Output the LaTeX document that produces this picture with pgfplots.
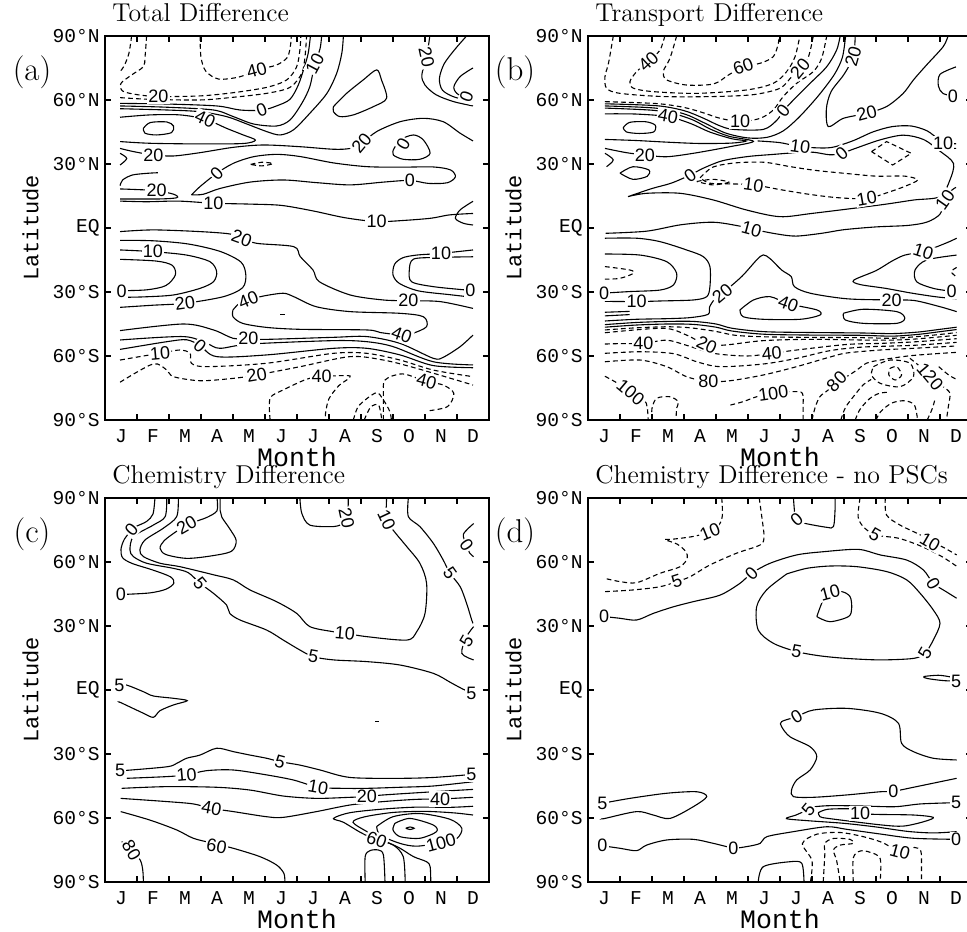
\documentclass[border=0pt]{standalone}
\usepackage{fontspec}
\usepackage{pgfplots}
\pgfplotsset{compat=1.18}
\newfontfamily\monofont{Liberation Mono}
\newfontfamily\labsans{Liberation Sans}
\newcommand{\lblfont}{\labsans\fontsize{9}{9}\selectfont}
\newcommand{\tickfont}{\monofont\fontsize{9.8}{10}\selectfont}

\pgfplotsset{
  panel/.style={
    scale only axis, width=192pt, height=192pt, anchor=south west,
    xmin=0, xmax=12, ymin=-90, ymax=90,
    axis line style={line width=0.9pt},
    tick style={black, line width=0.6pt},
    tick align=inside, major tick length=2.8pt,
    xtick={1,...,11}, xticklabels={},
    extra x ticks={0.5,1.5,...,11.5},
    extra x tick labels={J,F,M,A,M,J,J,A,S,O,N,D},
    extra x tick style={major tick length=0pt},
    xticklabel style={font=\tickfont, anchor=base, yshift=-11.35pt},
    ytick={-90,-60,...,90},
    yticklabels={90°S,60°S,30°S,EQ,30°N,60°N,90°N},
    yticklabel style={font=\tickfont, anchor=east, inner sep=0pt, xshift=-2.5pt},
    xlabel={Month}, ylabel={Latitude},
    xlabel style={font=\monofont\fontsize{13.3}{14}\selectfont,
      at={(axis description cs:0.5,-0.1214)}, anchor=base},
    ylabel style={font=\monofont\fontsize{11}{12}\selectfont,
      at={(axis description cs:-0.1737,0.5)}, anchor=base},
    title style={font=\fontsize{12.9}{13}\selectfont, inner sep=0pt,
      at={(axis description cs:0.0182,1)}, anchor=base west, yshift=1.4pt},
  },
  letter/.style={extra description/.code={
    \node[font=\fontsize{16.5}{17}\selectfont] at (-0.19,0.906) {#1};}},
  cl/.style={black, line width=0.55pt, smooth, tension=0.5, mark=none},
  ng/.style={cl, dash pattern=on 2.4pt off 1.6pt},
  lb/.style={only marks, mark=none, nodes near coords, point meta=explicit symbolic,
    visualization depends on={value \thisrow{a}\as\ang},
    every node near coord/.append style={font=\lblfont, rotate=\ang, anchor=center,
      fill=white, inner sep=0.6pt}},
}

\begin{document}
\begin{tikzpicture}
\useasboundingbox (0pt,0pt) rectangle (483.5pt,465.5pt);

%% ---------------- (a) Total Difference ----------------
\begin{axis}[panel, at={(52.5pt,255.5pt)}, title={Total Difference}, letter={(a)}]
% negative contours
\addplot[ng] coordinates {(2.97,90) (3.0,80) (3.15,73.5) (3.55,69.8) (4.2,70.8) (4.74,74) (5.36,76.4) (5.7,80) (5.8,86) (5.82,90)};
\addplot[ng] coordinates {(1.3,90) (1.25,80) (1.2,75.6) (0.83,71.7) (0.5,67.8) (0.55,64.2) (1.0,62.5) (1.67,61.6) (2.97,61.9) (4.0,63.4) (5.05,65.9) (5.68,69.4) (5.99,75.6) (6.09,83.4) (6.12,90)};
\addplot[ng] coordinates {(0.47,61.1) (1.41,60.3) (2.97,60) (4.0,61.25) (5.05,63.1) (5.78,65.9) (6.15,72.5) (6.25,80.3) (6.3,90)};
\addplot[ng] coordinates {(0.83,90) (0.75,82) (0.6,76) (0.47,73.3)};
\addplot[ng] coordinates {(4.55,29.8) (4.9,30.8) (5.25,30.2) (4.9,29.1) (4.55,29.8)};
% northern band
\addplot[cl] coordinates {(0.47,58.4) (1.93,58.1) (3.49,57.2) (4.22,55.3) (4.9,55.2) (5.36,57.2) (5.78,60.3) (6.04,67) (6.22,74.9) (6.35,81.9) (6.42,90)};
\addplot[cl] coordinates {(0.47,57.2) (1.93,56.6) (3.39,55.3) (4.01,52.2) (4.64,48.75) (5.36,47.8) (5.78,50.6) (6.15,58.4) (6.4,66.25) (6.56,77.2) (6.72,84) (6.77,90)};
\addplot[cl] coordinates {(0.47,55.9) (1.93,55.3) (2.97,54.5) (3.8,52.2) (4.43,48.75) (5.05,45.2) (5.47,43.6) (5.89,46) (6.4,53.75) (6.93,63) (7.24,72.5) (7.4,81.9) (7.45,90)};
\addplot[cl] coordinates {(0.47,51.9) (1.41,53) (2.34,53) (3.13,51) (3.8,46.7) (4.32,43.6) (4.7,41.2) (4.32,39.6) (2.97,39.4) (1.41,39.7) (0.47,40.5)};
\addplot[cl] coordinates {(1.2,46.7) (1.41,49.4) (1.93,49.7) (2.14,47.8) (2.08,44.7) (1.61,43.6) (1.25,44.4) (1.2,46.7)};
\addplot[cl] coordinates {(7.14,56.9) (7.55,63.1) (8.07,69.4) (8.49,74.1) (8.64,69.4) (8.8,60.8) (8.39,56.9) (7.76,53) (7.34,52.2) (7.14,54.5) (7.14,56.9)};
\addplot[cl] coordinates {(10.15,90) (10.05,80) (9.9,71.7) (10.0,67) (10.35,62.4) (10.9,59.2) (11.5,57.2)};
\addplot[cl] coordinates {(11.3,90) (10.95,84) (10.6,77) (10.45,70) (10.55,64.5) (10.95,61.2) (11.5,59.9)};
\addplot[cl] coordinates {(11.5,75) (11.1,71) (10.9,66) (11.05,62.5) (11.5,61.3)};
% middle latitudes
\addplot[cl] coordinates {(0.47,37.3) (0.89,35.8) (1.51,34.2) (2.14,33.75) (2.97,35.3) (4.01,37.8) (4.95,38.9) (6.09,38.1) (7.14,36.9) (7.66,37.3) (8.02,39.7) (8.49,45.2) (9.22,49.8) (9.95,51.4) (10.57,49.8) (11.1,44.4) (11.5,40.8)};
\addplot[cl] coordinates {(9.01,36.6) (9.22,41.25) (9.64,43.6) (9.95,41.25) (10.16,35) (9.84,32.2) (9.32,32.2) (9.01,34.2) (9.01,36.6)};
\addplot[cl] coordinates {(0.47,35) (0.68,32.6) (0.47,29.5)};
\addplot[cl] coordinates {(0.47,19.8) (0.55,22.5) (0.85,24.8) (1.3,25.6) (1.65,25.9)};
\addplot[cl] coordinates {(2.7,15.5) (2.97,19.4) (3.49,25.6) (4.01,30.3) (4.64,33.4) (5.36,34.5) (6.09,33.5) (7.14,30.5) (8.18,28.75) (9.22,28.5) (10.26,28.6) (10.8,27.2) (10.95,24) (10.7,21.2) (10.1,20.9) (9.53,22.3) (8.7,21.5) (7.66,20.2) (6.61,21.25) (5.57,22.5) (4.53,21.5) (3.59,18.5) (3.07,15.8) (2.7,15.5)};
\addplot[cl] coordinates {(0.47,18.3) (1.0,18.0) (1.61,17.5) (2.15,15.8) (2.25,14.2) (1.7,13.6) (0.47,13.6)};
\addplot[cl] coordinates {(0.47,12.6) (1.3,12.3) (2.3,12.6) (3.39,11.6) (4.5,11.2) (5.5,10.6) (6.5,8.0) (7.5,4.8) (8.49,3.0) (9.4,3.6) (10.2,4.6) (10.7,6.0) (11.1,6.5) (11.5,6.8)};
\addplot[cl] coordinates {(11.5,12.5) (11.1,8.5) (10.95,4.5) (11.2,2.2) (11.5,1.4)};
% southern hemisphere
\addplot[cl] coordinates {(0.47,-1.7) (1.5,-0.9) (2.97,-1.7) (3.9,-2.8) (4.27,-4.8) (4.74,-7.2) (5.9,-8.75) (6.1,-13.4) (6.5,-19.7) (6.7,-25.2) (7.66,-31.4) (8.7,-33.75) (9.48,-34.1) (10.47,-34.5) (11.5,-37.7)};
\addplot[cl] coordinates {(0.47,-5.8) (1.5,-6) (2.6,-7.5) (3.6,-11) (4.25,-16) (4.4,-22) (4.3,-28) (3.7,-32.2) (2.5,-35.3) (1.5,-36.2) (0.47,-37.2)};
\addplot[cl] coordinates {(0.47,-10.3) (1.5,-11.1) (2.55,-12.7) (3.28,-15.8) (3.49,-20.5) (3.39,-25.2) (2.97,-28.3) (2.14,-31.4) (1.2,-32.3) (0.47,-32.5)};
\addplot[cl] coordinates {(0.47,-14.7) (1.6,-15.5) (2.1,-17.5) (2.2,-22) (1.9,-27) (1.3,-29) (0.47,-29.4)};
\addplot[cl] coordinates {(11.5,-10.3) (10.5,-11.9) (9.74,-12.7) (9.3,-14) (9.05,-17) (9.0,-22) (9.2,-26) (9.8,-29.5) (10.8,-31.3) (11.5,-32.5)};
\addplot[cl] coordinates {(11.5,-13.5) (10.4,-13.8) (9.64,-14.6) (9.51,-19.7) (9.58,-25.2) (10.26,-27.5) (11.3,-29.1) (11.5,-29.4)};
\addplot[cl] coordinates {(4.0,-38.4) (4.2,-35.3) (4.48,-33.75) (4.95,-31.9) (5.57,-30.6) (5.9,-32.2) (6.6,-36.9) (7.66,-39.2) (9.22,-40) (9.95,-41.6) (10.05,-46.25) (9.6,-49.5) (9.27,-50.2) (8.6,-49) (8.18,-47.8) (6.1,-47.5) (5.05,-46.6) (4.3,-44.7) (4.0,-41.6) (4.0,-38.4)};
\addplot[cl] coordinates {(5.47,-40.5) (5.6,-40.5)};
\addplot[cl] coordinates {(0.47,-48.1) (2.45,-45) (3.39,-47.8) (4.0,-51.7) (4.48,-51.9) (5.05,-52.2) (7.14,-51.25) (8.18,-50.9) (9.22,-54.1) (10.26,-61.1) (10.57,-60.6) (11.1,-55.6) (11.5,-50.2)};
\addplot[cl] coordinates {(0.47,-52.5) (2.45,-50.9) (3.18,-54.1) (3.59,-56.4) (4.53,-54.4) (7.14,-52.8) (8.18,-53.3) (9.0,-55.6) (10.26,-62.7) (11.5,-64.2)};
\addplot[cl] coordinates {(0.47,-56.9) (1.93,-53.3) (2.55,-52.4) (2.97,-55.1) (3.49,-60.3) (5.05,-59.5) (7.14,-56.4) (8.18,-56.4) (9.22,-59.5) (10.26,-64.5) (11.5,-65.5)};
\addplot[ng] coordinates {(0.47,-61.9) (1.2,-60) (1.72,-58.75) (2.34,-57.2) (2.66,-58.75) (2.7,-63.4) (3.18,-65) (5.05,-63.4) (7.14,-58.75) (8.18,-58.75) (9.22,-61.9) (10.26,-66.6) (11.5,-69.7)};
\addplot[ng] coordinates {(0.47,-72.3) (1.5,-63.75) (1.93,-66.6) (2.14,-69.7) (2.97,-71.6) (4.0,-70.5) (4.74,-68.9) (6.1,-65) (7.66,-60.3) (8.7,-61.9) (9.74,-65.8) (11.5,-73.6)};
\addplot[ng] coordinates {(5.16,-90) (5.16,-79.8) (5.57,-75.9) (6.3,-70.9) (6.77,-69.7) (7.66,-69.4) (7.3,-74) (7.0,-80) (6.9,-86) (6.88,-90)};
\addplot[ng] coordinates {(8.7,-90) (8.7,-78) (8.75,-71.25) (9.3,-68.4) (10.05,-72) (10.57,-73.6) (10.9,-77.5) (10.7,-83.75) (10.05,-85.8)};
\addplot[ng] coordinates {(7.76,-90) (7.9,-84) (8.18,-80) (8.5,-77.2) (8.7,-80.6) (8.9,-86) (8.95,-90)};
\addplot[ng] coordinates {(8.1,-90) (8.3,-84) (8.55,-83) (8.65,-90)};
\addplot[lb] table[x=x,y=y,meta=t] {
x y a t
4.74 74 15 40
1.67 61.6 0 20
4.9 55.2 20 0
6.56 77.2 62 10
3.13 51 -25 40
10.05 80 -78 20
11.3 61.5 70 0
1.51 34.2 0 20
8.02 39.7 50 20
9.32 39.5 60 0
3.49 25.6 45 0
9.53 22.3 0 0
1.61 17.5 0 20
3.39 11.6 0 10
8.49 3 0 10
4.27 -4.8 -20 20
1.5 -11.1 0 10
0.52 -29.5 0 0
2.5 -35.3 8 20
9.48 -34.1 0 20
10.5 -11.9 0 10
11.42 -29.4 0 0
4.48 -33.8 22 40
9.27 -50.2 -20 40
4.48 -51.9 0 20
2.97 -55.1 -40 0
1.72 -58.8 5 10
4.74 -68.9 10 20
6.77 -69.7 0 40
10.05 -72 -15 40
};
\end{axis}

%% ---------------- (b) Transport Difference ----------------
\begin{axis}[panel, at={(294pt,255.5pt)}, title={Transport Difference}, letter={(b)}]
\addplot[ng] coordinates {(2.4,90) (2.25,83.4) (1.89,78) (1.52,73.3) (1.31,68.6) (1.42,65.5) (2.04,63.9) (3.4,63.1) (4.96,64.7) (5.79,67.8) (6.21,73.3) (6.47,80.3) (6.62,90)};
\addplot[ng] coordinates {(2.77,90) (2.56,79.5) (2.35,73.3) (2.46,69.4) (3.08,67) (3.92,67.5) (4.39,71.7) (4.85,75.6) (5.38,77.2) (5.79,80.3) (5.95,86.6) (5.97,90)};
\addplot[ng] coordinates {(0.79,90) (0.64,77.2) (0.53,71) (0.58,65.5) (1.0,63.1) (2.35,61.6) (3.92,61.6) (5.17,62.5) (6.0,65.5) (6.37,71) (6.63,74.8) (6.89,80.3) (7.04,90)};
\addplot[ng] coordinates {(0.53,59.2) (2.15,58.3) (3.0,56.5) (3.6,54) (4.13,51.4) (4.75,49.9) (5.38,51.4) (5.79,55.3) (6.1,61.6) (6.52,67.8) (7.04,73.3) (7.3,79.5) (7.46,90)};
\addplot[cl] coordinates {(0.53,58.2) (2.15,57.3) (3.0,55) (3.6,51.5) (4.1,48) (4.54,46.2) (5.48,46.2) (5.9,50.5) (6.1,54.8) (6.42,60) (6.94,67.8) (7.46,75.6) (7.77,83.4) (7.88,90)};
\addplot[cl] coordinates {(0.53,57.2) (2.1,56.2) (3.0,53.5) (3.6,49.5) (4.3,44.5) (5.0,42.2) (5.6,42.5) (6.1,45.5) (6.6,52) (7.2,62) (7.7,72) (7.95,80) (8.05,90)};
\addplot[cl] coordinates {(8.35,90) (8.29,80.3) (8.0,72) (7.6,64) (7.45,56) (7.51,47.5) (7.98,51.4) (8.71,53.75) (9.33,56.9) (9.85,63.1) (10.17,69.4) (10.58,76.4) (11.1,85) (11.25,90)};
\addplot[cl] coordinates {(11.5,75.5) (11.0,72) (10.95,66.5) (11.1,63) (11.5,61.6)};
\addplot[cl] coordinates {(0.53,53.5) (1.5,53.4) (2.5,52.2) (3.2,49) (3.8,45) (4.5,41.8) (4.95,40.8) (4.5,39.8) (3.5,39.6) (2.5,40.2) (1.5,41) (0.53,41.5)};
\addplot[cl] coordinates {(1.1,47) (1.3,49.5) (1.8,49.8) (2.1,48.2) (2.05,45) (1.6,44.3) (1.2,45) (1.1,47)};
\addplot[cl] coordinates {(0.53,56.2) (2.0,55.2) (2.7,53.5) (3.3,50.5) (3.8,46.5) (4.4,43) (5.17,40.6) (4.4,38) (3.29,35) (2.46,33.4) (1.78,34.2) (1.2,35.3) (0.53,37.3)};
\addplot[cl] coordinates {(5.3,40.8) (6.0,40) (6.63,38.1) (7.3,37.5) (7.7,38) (8.3,41) (8.9,45) (9.5,47.5) (10.1,47.8) (10.6,45.5) (10.95,41.5) (11.1,39.7) (11.5,39.5)};
\addplot[cl] coordinates {(10.8,37) (11.5,37.3)};
\addplot[cl] coordinates {(1.25,14.7) (2.0,18.5) (2.6,21) (3.19,24.8) (3.6,28) (4.2,31.5) (5.0,33.5) (5.8,34.5) (6.5,35.3) (7.04,35.5) (7.56,34.3) (7.93,35) (8.3,37) (9.13,41.3) (9.85,43.5) (10.48,41.5) (11.0,36) (11.42,30.3) (11.31,22.5) (11.0,14.7) (10.17,13.1) (9.13,10.8) (7.04,6.9) (6.0,5.3) (4.96,8.4) (3.92,13.1) (2.88,16.25) (1.83,16.25) (1.25,14.7)};
\addplot[ng] coordinates {(3.5,23.5) (3.9,28.5) (4.6,30.5) (5.5,30.8) (6.3,28.8) (7.1,27) (8.1,25.5) (9.0,24.3) (9.9,24.3) (10.3,22.5) (9.9,19.5) (9.3,16.3) (8.71,13.8) (7.8,14.2) (6.9,15.8) (6.0,18) (5.17,20.2) (4.4,20.7) (3.8,21) (3.5,23.5)};
\addplot[ng] coordinates {(3.4,21.8) (3.9,22.8) (4.4,21.5) (3.9,20.2) (3.4,21.8)};
\addplot[ng, sharp plot] coordinates {(8.86,35.8) (9.33,40.5) (10.1,35) (9.52,29.5) (8.86,35.8)};
\addplot[cl] coordinates {(1.0,25.7) (1.4,28.7) (1.9,27.2) (1.85,24.2) (1.4,22.8) (1.0,25.7)};
\addplot[cl] coordinates {(0.53,35) (0.79,31.9) (0.58,28.75)};
\addplot[cl] coordinates {(0.55,-2.5) (1.83,-1.5) (2.9,1.5) (3.9,2.7) (4.7,1.0) (5.11,-0.5) (5.9,-2.8) (6.5,-3.8) (7.3,-2.5) (8.0,-0.8) (9.0,0.5) (10.0,1.2) (10.6,2.8) (11.0,6.5) (11.16,13.1) (11.35,17.5) (11.5,19)};
% southern hemisphere
\addplot[cl] coordinates {(0.53,-4.8) (1.52,-4.8) (2.25,-6.4) (3.08,-10.3) (3.6,-13.4) (3.81,-18.1) (3.81,-27.5) (3.71,-32.2) (3.29,-33.75) (2.3,-34.2) (1.52,-34.5) (0.53,-34.4)};
\addplot[cl] coordinates {(0.53,-12.2) (1.63,-12.7) (2.46,-15.8) (2.77,-21.25) (2.67,-26.7) (2.25,-29.1) (1.31,-29.8) (0.53,-30.5)};
\addplot[ng] coordinates {(0.53,-18.1) (1.31,-19.7) (1.42,-21.25) (1.0,-23.6) (0.53,-24)};
\addplot[cl] coordinates {(0.53,-39.5) (1.3,-39.1)};
\addplot[cl] coordinates {(0.53,-41.2) (1.3,-40.6)};
\addplot[cl] coordinates {(0.53,-43.6) (1.5,-42.8) (2.5,-42.5) (3.2,-42) (3.75,-40.5) (3.8,-37) (3.95,-33.5) (4.2,-30.6) (4.8,-22.8) (5.27,-15) (5.48,-12.6) (5.7,-14.5) (6.05,-19.7) (6.35,-22.8) (6.45,-27.5) (6.95,-30.6) (8.1,-33.2) (9.49,-33.75) (10.2,-34) (11.0,-36.9) (11.52,-39.2)};
\addplot[cl] coordinates {(4.75,-38.4) (5.17,-33.75) (5.69,-32.2) (6.26,-35.5) (7.15,-38.4) (7.25,-40.8) (6.63,-42.8) (5.48,-42.8) (4.85,-41.6) (4.75,-38.4)};
\addplot[cl] coordinates {(7.98,-40) (8.6,-38.1) (9.65,-39.2) (9.9,-42.3) (9.65,-44.7) (8.6,-44.7) (8.04,-43.1) (7.98,-40)};
\addplot[cl] coordinates {(0.53,-45.3) (1.5,-44.3) (2.5,-43.8) (3.3,-43.8) (4.0,-45) (4.5,-47) (5.5,-48.6) (7,-49) (8.5,-49.2) (9.5,-49.5) (10.3,-48.8) (11,-47.5) (11.52,-46.5)};
\addplot[cl] coordinates {(0.53,-46.5) (1.5,-45.5) (2.5,-45) (3.3,-45.2) (4.0,-46.5) (4.5,-48.3) (5.5,-49.8) (7,-50.2) (8.5,-50.3) (9.5,-50.7) (10.3,-49.9) (11,-48.6) (11.52,-47.6)};
\addplot[ng] coordinates {(0.53,-47.8) (1.5,-46.8) (2.5,-46.3) (3.2,-46.8) (4.0,-48.5) (4.6,-50.3) (5.5,-51) (7,-51.3) (8.5,-51.4) (9.5,-51.7) (10.3,-50.9) (11,-49.9) (11.52,-49)};
\addplot[ng] coordinates {(0.53,-49.1) (2.35,-47) (3.08,-50.2) (3.71,-54.8) (4.33,-54.8) (5.48,-52.8) (7.04,-52.2) (9.13,-52.6) (10.17,-52.1) (11.52,-50.3)};
\addplot[ng] coordinates {(0.53,-54.4) (1.0,-54.2) (1.73,-54.1) (2.46,-52.6) (3.08,-55) (3.92,-58.75) (4.96,-60) (5.74,-58.75) (6.52,-57.2) (8.08,-54.6) (9.13,-54.1) (10.17,-53.4) (11.52,-51.9)};
\addplot[ng] coordinates {(0.53,-58.75) (1.63,-58) (2.67,-58.9) (3.4,-62.7) (4.13,-65) (5.48,-63.75) (6.52,-61.1) (7.56,-57.5) (8.6,-55.8) (10.17,-55) (11.52,-53.6)};
\addplot[ng] coordinates {(0.53,-62.7) (1.63,-61.9) (2.46,-65) (3.08,-69.7) (3.76,-72) (4.44,-71.6) (5.48,-68.9) (6.52,-65) (7.56,-60.5) (8.08,-58.6) (9.13,-57.2) (10.17,-56.4) (11.52,-55.3)};
\addplot[ng] coordinates {(0.53,-69.5) (0.95,-73) (1.33,-77) (1.75,-80.5) (1.85,-84) (1.88,-90)};
\addplot[ng] coordinates {(2.0,-90) (2.0,-84.5) (2.15,-79.8) (2.56,-79.1) (2.82,-81.4) (2.77,-84.5) (2.75,-90)};
\addplot[ng] coordinates {(4.45,-83) (4.85,-81.4) (5.27,-79.1) (5.79,-77.5) (6.4,-76.7) (6.7,-77.5) (6.72,-84.5) (6.72,-90)};
\addplot[ng] coordinates {(7.0,-90) (7.1,-84) (7.25,-79) (7.5,-76) (7.77,-72) (8.08,-69.7) (8.4,-66.6) (8.7,-63.4) (9.13,-61.9) (10.0,-60) (10.8,-59) (11.52,-58.3)};
\addplot[ng] coordinates {(9.44,-65.8) (9.65,-65) (9.8,-68.9) (9.6,-71.25) (9.4,-68.9) (9.44,-65.8)};
\addplot[ng] coordinates {(8.92,-65) (9.44,-61.9) (10.06,-63.4) (10.17,-69.7) (9.75,-74.4) (9.13,-72.8) (8.86,-68.9) (8.92,-65)};
\addplot[ng] coordinates {(10.06,-61.1) (10.38,-65) (10.69,-69.7) (11.1,-74.4) (11.31,-77.5) (11.26,-83.75) (11.2,-90)};
\addplot[ng] coordinates {(10.96,-65) (11.27,-68.9) (11.52,-71)};
\addplot[ng] coordinates {(7.9,-90) (8.05,-84) (8.35,-78) (8.6,-73.5) (8.85,-71)};
\addplot[ng] coordinates {(8.35,-90) (8.5,-85) (8.8,-80) (9.1,-77.5) (9.4,-77)};
\addplot[ng] coordinates {(9.0,-90) (9.15,-86) (9.5,-82) (9.9,-81) (10.2,-83) (10.3,-90)};
\addplot[ng] coordinates {(10.6,-90) (10.75,-85) (10.85,-80)};
\addplot[cl] coordinates {(11.52,-12.7) (10.58,-15) (10.22,-19.7) (10.27,-25.2) (10.79,-28.3) (11.36,-29.8) (11.52,-31.4)};
\addplot[cl] coordinates {(11.52,-4.8) (11.2,-7) (10.48,-11.1) (9.9,-12.7) (9.5,-15.5) (9.0,-20) (8.3,-24.5) (8.5,-26.5) (9.3,-28.3) (10.1,-30.5) (10.9,-32.3) (11.52,-33.2)};
\addplot[ng] coordinates {(11.52,-18.5) (11.35,-20.5) (11.52,-23)};
\addplot[lb] table[x=x,y=y,meta=t] {
x y a t
1.89 78 43 40
4.85 75.6 20 60
6.63 74.8 50 20
4.75 49.9 0 10
6.1 54.8 51 0
8.29 80.3 74 20
8.71 53.75 15 20
2.5 52.2 -10 40
1.78 34.2 0 20
3.19 24.8 35 0
7.93 35 40 0
6.63 38.1 -8 10
11.1 39.7 0 10
5.17 20.2 -8 10
8.71 13.8 10 10
11.4 61.8 0 0
5.11 -0.5 -15 10
11.16 13.1 55 10
0.5 -30.6 0 0
1.52 -34.5 0 10
4.2 -30.6 40 20
6.26 -35.5 -20 40
9.49 -33.75 0 20
11.36 -29.8 0 0
10.48 -11.1 -18 10
3.71 -54.8 -25 20
1.73 -54.1 0 40
5.74 -58.75 5 40
3.76 -72 0 80
1.33 -77 -40 100
5.79 -77.5 8 100
7.77 -72 45 80
10.69 -69.7 -50 120
};
\end{axis}

%% ---------------- (c) Chemistry Difference ----------------
\begin{axis}[panel, at={(52.5pt,24.5pt)}, title={Chemistry Difference}, letter={(c)}]
\addplot[cl] coordinates {(1.56,90) (1.5,82.5) (1.3,79) (0.95,76.5) (0.83,75) (0.6,70.5) (0.5,66) (0.55,62) (0.85,59.3) (1.5,56.2) (2.05,53) (2.15,50) (1.9,47.2) (1.4,45.5) (0.6,44.8) (0.45,44.8)};
\addplot[cl] coordinates {(1.93,90) (1.88,81.25) (1.51,77.3) (0.89,71.9) (0.78,65.6) (0.89,62.5) (1.3,59.4) (2.14,57) (2.6,55) (2.97,50) (3.39,45.3) (3.8,39.8) (3.9,35.9) (4.22,32.8) (5.05,28.1) (5.57,23.4) (6.09,18.75) (6.51,15.6) (7.14,14.1) (8.18,13.3) (9.22,11.7) (10.26,7.8) (10.8,3.5) (11.2,0.3) (11.5,-1.5)};
\addplot[cl] coordinates {(2.29,90) (2.24,81.25) (1.82,75.8) (1.25,70.3) (1.09,65.6) (1.2,62.5) (1.72,59.4) (2.34,57.8) (3.39,54) (4.01,51.6) (4.53,46.9) (5.36,41.4) (5.99,35.9) (6.4,29.7) (7.14,27.3) (7.5,26.6) (8.18,25) (9.43,23.4) (9.74,27.3) (10.0,35.9) (10.05,50) (9.84,59.4) (9.43,67.2) (9.0,75) (8.8,79.7) (8.8,90)};
\addplot[cl] coordinates {(9.48,90) (9.48,81.25) (9.84,76.6) (10.26,68.75) (10.57,60.9) (10.78,54.7) (11.1,48.4) (11.3,40.6) (11.46,32.8) (11.5,31.25)};
\addplot[cl] coordinates {(11.52,78) (11.2,73) (11.3,68) (11.4,64.1) (11.52,62.5)};
\addplot[cl] coordinates {(11.52,29.7) (11.3,25) (11.15,17.2) (11.52,14.1)};
\addplot[cl] coordinates {(6.09,90) (6.15,82.8) (6.4,77.3) (7.14,76.6) (7.45,78.1) (7.55,80.5) (7.6,86.7) (7.6,90)};
\addplot[cl] coordinates {(3.5,90) (3.5,84) (3.2,81) (2.97,79.7) (2.55,77.3) (2.2,74) (1.85,70) (1.72,66.5) (1.9,63.5) (2.55,61.7) (3.3,62.8) (3.95,65) (4.1,70) (3.9,75.5) (3.65,81) (3.6,84) (3.6,90)};
\addplot[cl] coordinates {(0.45,2.3) (0.68,2.3) (1.2,-0.8) (1.51,-2.8) (2.14,-3.9) (2.57,-5) (2.14,-7) (1.72,-9.7) (1.51,-12.8) (1.2,-10.9) (0.49,-5.9) (0.45,-5.8)};
\addplot[cl] coordinates {(8.45,-14.8) (8.55,-14.8)};
\addplot[cl] coordinates {(0.45,-37.8) (0.57,-37.8) (1.93,-36) (2.24,-34.4) (2.55,-32) (2.97,-30.5) (3.49,-27.3) (4.01,-28.9) (4.53,-30.5) (5.05,-32) (5.47,-33.6) (6.09,-35.2) (6.72,-37.5) (7.66,-41) (9.22,-41.4) (10.26,-41) (11.3,-39.8) (11.52,-39.6)};
\addplot[cl] coordinates {(0.68,-41.4) (1.93,-40.6) (2.55,-39.8) (3.18,-37.8) (4.01,-37.5) (5.05,-39.8) (5.89,-42.2) (6.66,-45.6) (7.45,-46.1) (8.18,-46.1) (9.22,-45.6) (10.26,-45) (11.5,-43)};
\addplot[cl] coordinates {(0.52,-46.1) (1.93,-45.3) (3.49,-45.6) (4.53,-46.9) (5.57,-49.7) (6.61,-50.8) (7.66,-50.3) (8.18,-50) (8.7,-49.2) (10.26,-47.7) (11.5,-46.6)};
\addplot[cl] coordinates {(0.49,-50.8) (1.93,-52.3) (2.76,-53.4) (3.33,-55.5) (4.01,-57) (5.05,-59.4) (5.57,-59.7) (6.61,-57) (7.66,-53.9) (8.7,-52.3) (9.74,-51.25) (10.47,-51.1) (11.5,-50.3)};
\addplot[cl] coordinates {(0.49,-57) (1.41,-61) (2.24,-65.6) (2.76,-69.5) (3.39,-71.9) (4.01,-74.2) (4.84,-78.1) (5.36,-82) (5.59,-85.9) (5.62,-90)};
\addplot[cl] coordinates {(11.5,-54.5) (10.78,-55) (9.74,-54.9) (8.7,-55.8) (7.66,-57.5) (7.14,-60.2) (7.45,-62) (8.0,-66.9) (8.49,-70.3) (9.0,-72.6) (9.32,-78.1) (9.38,-90)};
\addplot[cl] coordinates {(11.5,-58.6) (10.9,-57.6) (10.0,-56.9) (9.0,-57.4) (8.1,-59.5) (7.75,-62) (8.2,-66.5) (8.7,-70.5) (9.2,-74) (9.64,-78.1) (10.05,-80.5) (10.16,-82.8) (10.18,-90)};
\addplot[cl] coordinates {(8.49,-64) (9.0,-59.4) (9.84,-57.9) (10.78,-60.6) (11.15,-64.8) (11.0,-69.5) (10.5,-71.6) (9.74,-73.2) (9.22,-71.9) (8.6,-68) (8.49,-64)};
\addplot[cl] coordinates {(9.06,-62.5) (9.53,-60.2) (10.26,-63.3) (10.36,-66.4) (9.84,-69.5) (9.22,-68.75) (9.0,-65.6) (9.06,-62.5)};
\addplot[cl] coordinates {(9.4,-64.8) (9.53,-64.2) (9.66,-64.8) (9.53,-65.4) (9.4,-64.8)};
\addplot[cl] coordinates {(8.13,-90) (8.13,-78.1) (8.28,-75.3) (8.54,-75) (8.7,-77.3) (8.75,-90)};
\addplot[cl] coordinates {(0.52,-71.1) (0.68,-72.7) (0.83,-75) (1.1,-79.7) (1.18,-84.4) (1.2,-90)};
\addplot[lb] table[x=x,y=y,meta=t] {
x y a t
0.83 75 49 0
0.5 44.8 0 0
2.55 77.3 30 20
2.97 50 -50 5
7.5 26.6 -5 10
6.51 15.6 -10 5
7.55 80.5 -78 20
8.8 79.7 -65 10
10.78 54.7 -55 5
11.3 68 -55 0
11.3 23 60 5
11.45 -1.6 0 5
0.45 2.3 0 5
0.47 -37.8 0 5
2.55 -39.8 5 10
5.47 -33.6 -15 5
11.45 -39.6 0 5
6.66 -45.6 -10 10
8.18 -50 0 20
3.33 -55.5 -10 40
10.47 -51.1 0 40
3.49 -73.4 -10 60
8.49 -70.3 -20 60
10.5 -71.6 15 100
0.83 -75 -60 80
};
\end{axis}

%% ---------------- (d) Chemistry Difference - no PSCs ----------------
\begin{axis}[panel, at={(294pt,24.5pt)}, title={Chemistry Difference - no PSCs}, letter={(d)}]
\addplot[ng] coordinates {(4.18,90) (4.2,82) (4.1,77.5) (3.81,74.2) (3.3,72) (2.6,70.6) (2.4,70.5) (2.78,68.4) (3.05,65) (3.1,61.7) (2.88,57.8) (2.25,54.7) (1.52,50.3) (1.0,50.8) (0.53,52.3)};
\addplot[ng] coordinates {(5.35,90) (5.43,81.25) (5.5,71.9) (5.38,68) (4.64,64.1) (3.81,58.6) (3.19,53.1) (2.77,50.8) (2.25,48.4) (1.42,46.9) (0.53,46.1)};
\addplot[cl] coordinates {(0.53,34.4) (1.0,33.6) (1.52,32.8) (2.04,35.9) (2.67,39) (3.29,41.4) (4.13,44.5) (4.75,50) (5.11,54.7) (5.69,59.4) (6.52,63.3) (7.35,64.8) (8.45,65.9) (9.13,63.3) (9.96,60.9) (10.48,56.25) (10.79,50) (11.2,46) (11.52,43)};
\addplot[cl] coordinates {(6.42,90) (6.46,82.8) (6.52,79.7) (6.78,78.1) (7.46,76.25) (7.67,76.6) (7.72,84.4) (7.72,90)};
\addplot[cl] coordinates {(6.21,54.4) (5.58,46.9) (5.27,39) (5.32,28.1) (5.79,21.9) (6.52,18) (7.25,16) (8.08,14.8) (9.13,14.1) (10.17,14.8) (10.53,17.2) (10.79,23.4) (11.0,31.25) (10.79,37.5) (10.38,45.3) (9.96,51.6) (9.33,55.5) (8.4,57.8) (7.56,58.1) (6.83,57) (6.21,54.4)};
\addplot[cl] coordinates {(7.15,34.4) (7.35,42.2) (7.56,45.3) (7.93,46.1) (8.19,43.75) (8.24,38.3) (8.14,34.4) (7.56,32) (7.15,34.4)};
\addplot[ng] coordinates {(8.5,90) (8.44,81.25) (8.6,76.6) (8.97,72.7) (9.71,71.1) (10.44,67.2) (11.06,62.5) (11.52,58)};
\addplot[ng] coordinates {(9.29,90) (9.33,82) (9.75,77.3) (10.38,72.7) (10.69,69.5) (11.06,67.2) (11.52,63.3)};
\addplot[cl] coordinates {(11.52,4.2) (11.1,4.4) (10.6,5.4) (10.5,6.3) (10.95,6.9) (11.3,6.2) (11.52,5.5)};
\addplot[cl] coordinates {(11.52,-32.8) (10.79,-32) (10.17,-28.9) (9.8,-25) (9.7,-15.6) (9.13,-10.9) (8.08,-8.6) (7.04,-9.4) (6.52,-12.5) (6.05,-14.8) (6.05,-17.2) (6.31,-21.9) (6.94,-26.6) (7.15,-31.25) (6.94,-37.5) (6.52,-42.2) (6.36,-46.9) (6.42,-50) (7.04,-50.3) (8.08,-49.2) (9.13,-47.7) (9.54,-47.5) (10.17,-45.6) (11.52,-41.4)};
\addplot[cl] coordinates {(11.52,-52.8) (10.4,-53.4) (9.6,-54.7) (8.6,-54.4) (7.6,-54.2) (7.05,-54.8) (6.89,-56) (6.5,-58.6) (6.2,-60.3) (6.9,-61.3) (8.0,-62.5) (9.0,-64.2) (10.0,-66.3) (10.8,-67) (11.52,-66.4)};
\addplot[cl] coordinates {(7.2,-57.5) (7.5,-55.9) (8.3,-55.8) (8.5,-57.8) (9.0,-58.3) (10.17,-58.6) (10.79,-59.7) (10.5,-61.7) (9.85,-63.8) (9.13,-63.2) (7.56,-60.3) (7.25,-59.4) (7.2,-57.5)};
\addplot[cl] coordinates {(0.45,-73) (1.0,-74.2) (1.52,-75.3) (1.83,-72.7) (2.46,-70.3) (3.29,-70) (3.92,-71.9) (4.54,-74) (4.96,-73.4) (5.38,-71.9) (5.59,-68.75) (6.42,-66.4) (7.46,-64.1) (8.08,-65.3) (9.13,-67.5) (10.17,-69.5) (11.52,-70)};
\addplot[cl] coordinates {(0.45,-53.1) (1.31,-50.8) (2.46,-48.4) (3.4,-47.7) (3.71,-50) (3.29,-54.7) (2.56,-60.2) (2.04,-58.6) (1.52,-57) (0.53,-60.2) (0.45,-60.3)};
\addplot[cl] coordinates {(5.32,-90) (5.48,-82.8) (6.31,-80.5) (6.68,-81.25) (6.75,-90)};
\addplot[ng] coordinates {(6.95,-90) (7.0,-80) (6.7,-72) (7.15,-67.6) (7.88,-66.8) (8.6,-68.75) (9.2,-71.5) (9.75,-75.8) (10.2,-73.8) (10.4,-75.5) (10.42,-82) (10.42,-90)};
\addplot[ng] coordinates {(7.35,-90) (7.4,-77) (7.4,-71.9) (7.67,-69.6) (8.19,-70) (8.29,-71.9) (7.88,-72.7) (7.67,-75) (7.77,-80) (7.88,-90)};
\addplot[ng] coordinates {(8.29,-90) (8.29,-78.7) (8.5,-75.5) (8.8,-76) (9.13,-79) (9.13,-90)};
\addplot[lb] table[x=x,y=y,meta=t] {
x y a t
3.81 74.2 22 10
2.77 50.8 18 5
0.5 34.4 0 0
5.11 54.7 45 0
6.52 79.7 40 0
7.56 45.6 15 10
6.52 18 -10 5
10.53 17.2 60 5
10.79 50 -60 0
8.97 72.7 -30 5
10.69 69.5 -30 10
11.5 4.2 0 5
6.52 -12.5 30 0
9.54 -47.5 0 0
11.5 -52.8 0 5
6.89 -56 50 5
8.5 -57.8 0 10
0.45 -73 0 0
4.54 -74 0 0
11.5 -70 0 0
0.45 -53.1 0 5
9.75 -75.8 -15 10
};
\end{axis}
\end{tikzpicture}
\end{document}
